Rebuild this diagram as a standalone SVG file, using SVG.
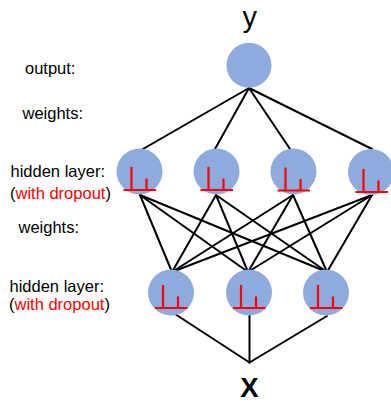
<svg xmlns="http://www.w3.org/2000/svg" xmlns:xlink="http://www.w3.org/1999/xlink" width="391" height="402" viewBox="0 0 391 402">
  <style>
    .label { font-family: "Liberation Sans", Arial, sans-serif; font-size: 16.5px; fill: #000; }
    .red { fill: #ff0000; }
    .unit { fill: #8faadc; }
    .wire { stroke: #000; stroke-width: 2; stroke-linecap: round; fill: none; }
    .spike { stroke: #ff0000; stroke-width: 2.2; fill: none; }
    .var { font-family: "Liberation Sans", Arial, sans-serif; fill: #000; text-anchor: middle; }
  </style>
  <defs>
    <!-- dropout activity glyph, origin at the baseline centre -->
    <g id="spikes">
      <path class="spike" d="M-8,-23 V0 M7,-11.5 V0 M-16,0 H16.5"/>
    </g>
  </defs>

  <rect width="391" height="402" fill="#fff"/>

  <!-- layer captions -->
  <g id="captions">
    <text class="label" x="25" y="73.5">output:</text>
    <text class="label" x="22.5" y="118.5">weights:</text>
    <text class="label" x="10.5" y="176.5">hidden layer:</text>
    <text class="label" x="10" y="199">(<tspan class="red">with dropout</tspan>)</text>
    <text class="label" x="18.5" y="232.5">weights:</text>
    <text class="label" x="9.5" y="291.5">hidden layer:</text>
    <text class="label" x="9" y="310">(<tspan class="red">with dropout</tspan>)</text>
  </g>

  <!-- connectors -->
  <g id="connectors">
    <!-- output to first hidden layer -->
    <line class="wire" x1="249" y1="88" x2="143" y2="149"/>
    <line class="wire" x1="249" y1="88" x2="215" y2="149"/>
    <line class="wire" x1="249" y1="88" x2="290" y2="149"/>
    <line class="wire" x1="249" y1="88" x2="372" y2="149"/>
    <!-- first hidden layer to second hidden layer -->
    <line class="wire" x1="140" y1="195" x2="172" y2="272"/>
    <line class="wire" x1="140" y1="195" x2="248" y2="272"/>
    <line class="wire" x1="140" y1="195" x2="327" y2="272"/>
    <line class="wire" x1="216" y1="195" x2="172" y2="272"/>
    <line class="wire" x1="216" y1="195" x2="248" y2="272"/>
    <line class="wire" x1="216" y1="195" x2="327" y2="272"/>
    <line class="wire" x1="293" y1="195" x2="172" y2="272"/>
    <line class="wire" x1="293" y1="195" x2="248" y2="272"/>
    <line class="wire" x1="293" y1="195" x2="327" y2="272"/>
    <line class="wire" x1="372" y1="195" x2="172" y2="272"/>
    <line class="wire" x1="372" y1="195" x2="248" y2="272"/>
    <line class="wire" x1="372" y1="195" x2="327" y2="272"/>
    <!-- second hidden layer to input -->
    <line class="wire" x1="175" y1="314" x2="249.5" y2="362.5"/>
    <line class="wire" x1="249.5" y1="315" x2="249.5" y2="362.5"/>
    <line class="wire" x1="327" y1="316" x2="249.5" y2="362.5"/>
  </g>

  <!-- output unit -->
  <g id="output">
    <circle class="unit" cx="249" cy="65.3" r="22.5"/>
  </g>
  <text id="label-y" class="var" x="249.7" y="26.7" font-size="29">y</text>

  <!-- first hidden layer -->
  <g id="h1-1">
    <circle class="unit" cx="139.5" cy="171.5" r="23"/>
    <use xlink:href="#spikes" x="139.5" y="190"/>
  </g>
  <g id="h1-2">
    <circle class="unit" cx="216.5" cy="171.5" r="23"/>
    <use xlink:href="#spikes" x="216.5" y="190"/>
  </g>
  <g id="h1-3">
    <circle class="unit" cx="293.5" cy="171.5" r="23"/>
    <use xlink:href="#spikes" x="293.5" y="190.5"/>
  </g>
  <g id="h1-4">
    <circle class="unit" cx="371" cy="172" r="23"/>
    <use xlink:href="#spikes" x="371.5" y="192"/>
  </g>

  <!-- second hidden layer -->
  <g id="h2-1">
    <circle class="unit" cx="171" cy="292.5" r="23"/>
    <use xlink:href="#spikes" x="171" y="308"/>
  </g>
  <g id="h2-2">
    <circle class="unit" cx="249" cy="292.5" r="23"/>
    <use xlink:href="#spikes" x="249" y="308"/>
  </g>
  <g id="h2-3">
    <circle class="unit" cx="326" cy="292.5" r="23"/>
    <use xlink:href="#spikes" x="326" y="308"/>
  </g>

  <!-- input -->
  <text id="label-x" class="var" x="249.5" y="397" font-size="27.5" font-weight="bold">X</text>
</svg>
